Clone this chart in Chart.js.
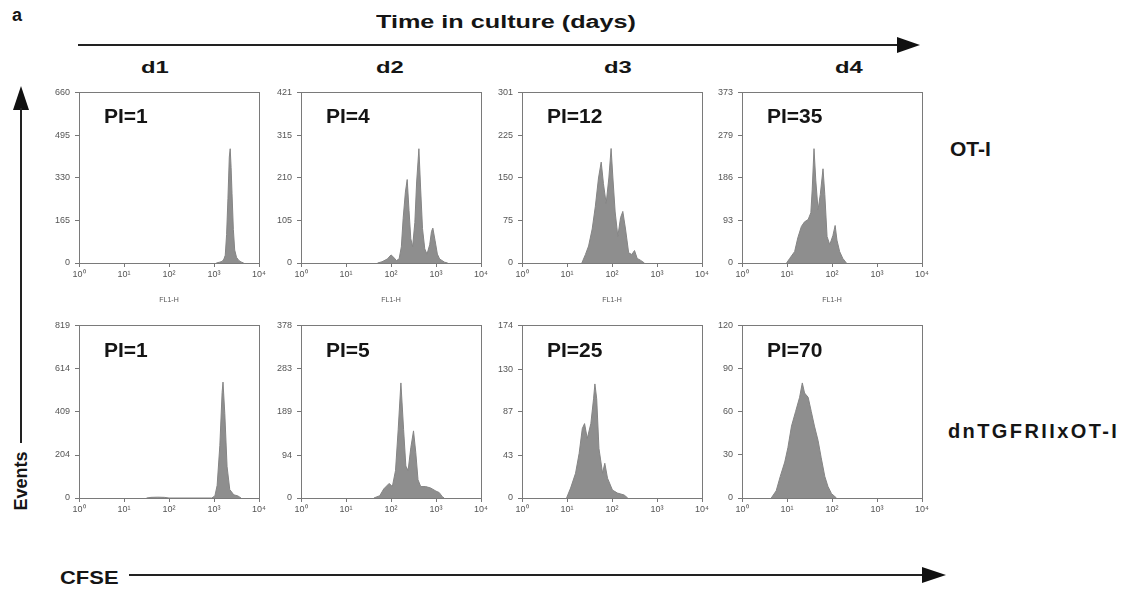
<!DOCTYPE html>
<html>
<head>
<meta charset="utf-8">
<script src="https://cdn.jsdelivr.net/npm/chart.js@4.4.1/dist/chart.umd.min.js"></script>
<style>
  body { margin: 0; background: #fff; font-family: "Liberation Sans", Arial, sans-serif; }
  #fig { position: relative; width: 1128px; height: 590px; overflow: hidden; background: #fff; }
  .lbl { position: absolute; font-weight: bold; color: #151515; white-space: nowrap; line-height: 1; }
  .wide { transform-origin: 0 0; }
  .line { position: absolute; background: #222; }
  .head { position: absolute; width: 0; height: 0; }
  canvas { position: absolute; }
</style>
</head>
<body>
<div id="fig">
  <div class="lbl" style="left:12px;top:6px;font-size:18px;">a</div>
  <div class="lbl wide" style="left:376px;top:13px;font-size:18px;transform:scaleX(1.4);">Time in culture (days)</div>
  <div class="line" style="left:78px;top:44px;width:820px;height:2px;"></div>
  <div class="head" style="left:897px;top:37px;border-top:8px solid transparent;border-bottom:8px solid transparent;border-left:23px solid #111;"></div>

  <div class="lbl wide" style="left:141px;top:59px;font-size:17px;transform:scaleX(1.4);">d1</div>
  <div class="lbl wide" style="left:376px;top:59px;font-size:17px;transform:scaleX(1.4);">d2</div>
  <div class="lbl wide" style="left:604px;top:59px;font-size:17px;transform:scaleX(1.4);">d3</div>
  <div class="lbl wide" style="left:835px;top:59px;font-size:17px;transform:scaleX(1.4);">d4</div>

  <div class="lbl" style="left:950px;top:138px;font-size:21px;">OT-I</div>
  <div class="lbl" style="left:948px;top:421px;font-size:20px;letter-spacing:2.4px;">dnTGFRIIxOT-I</div>

  <div class="head" style="left:13px;top:86px;border-left:8px solid transparent;border-right:8px solid transparent;border-bottom:24px solid #111;"></div>
  <div class="line" style="left:20px;top:108px;width:2px;height:335px;"></div>
  <div class="lbl" style="left:-10px;top:472px;font-size:18px;transform:rotate(-90deg);transform-origin:50% 50%;width:62px;text-align:center;">Events</div>

  <div class="lbl wide" style="left:60px;top:569px;font-size:18px;transform:scaleX(1.22);">CFSE</div>
  <div class="line" style="left:129px;top:574px;width:795px;height:2px;"></div>
  <div class="head" style="left:922px;top:567px;border-top:8px solid transparent;border-bottom:8px solid transparent;border-left:24px solid #111;"></div>
</div>
<script>
// CFSE position in decades (10^0 .. 10^4) and event counts
const ot1Pos = [3.05, 3.12, 3.18, 3.22, 3.25, 3.28, 3.31, 3.34, 3.36, 3.38, 3.40, 3.43, 3.46, 3.50, 3.55, 3.60, 3.66];
const ot1Cnt = [0, 3, 6, 15, 30, 110, 250, 410, 442, 370, 270, 130, 50, 22, 10, 4, 0];

const ot2Pos = [1.70, 1.80, 1.92, 2.00, 2.06, 2.12, 2.18, 2.23, 2.27, 2.32, 2.36, 2.40, 2.44, 2.48, 2.53, 2.57, 2.62, 2.66, 2.70, 2.75, 2.80, 2.86, 2.90, 2.93, 2.98, 3.03, 3.08, 3.19, 3.26];
const ot2Cnt = [0, 3, 10, 20, 14, 6, 10, 40, 110, 175, 206, 130, 60, 40, 100, 200, 282, 180, 85, 35, 22, 45, 78, 86, 55, 22, 10, 2, 0];

const ot3Pos = [1.33, 1.41, 1.48, 1.56, 1.63, 1.70, 1.76, 1.81, 1.87, 1.93, 1.98, 2.02, 2.07, 2.13, 2.19, 2.24, 2.30, 2.37, 2.44, 2.50, 2.56, 2.63, 2.72];
const ot3Cnt = [0, 15, 30, 60, 100, 150, 178, 140, 105, 150, 202, 150, 90, 47, 80, 91, 60, 18, 15, 22, 8, 5, 0];

const ot4Pos = [0.99, 1.06, 1.17, 1.24, 1.32, 1.39, 1.47, 1.53, 1.56, 1.60, 1.64, 1.69, 1.74, 1.80, 1.84, 1.89, 1.95, 2.02, 2.07, 2.11, 2.17, 2.24, 2.32];
const ot4Cnt = [0, 10, 25, 55, 80, 90, 95, 110, 160, 250, 180, 116, 150, 206, 150, 58, 40, 60, 82, 50, 25, 10, 0];

const dn1Pos = [1.50, 1.60, 1.75, 1.90, 2.00, 2.95, 3.02, 3.07, 3.13, 3.18, 3.20, 3.24, 3.29, 3.35, 3.44, 3.53, 3.60];
const dn1Cnt = [0, 3, 4, 3, 0, 0, 10, 60, 250, 500, 550, 400, 150, 40, 15, 10, 0];

const dn2Pos = [1.62, 1.75, 1.84, 1.96, 2.03, 2.10, 2.16, 2.22, 2.28, 2.33, 2.38, 2.44, 2.50, 2.55, 2.60, 2.66, 2.77, 2.88, 3.00, 3.07, 3.14, 3.18];
const dn2Cnt = [0, 5, 20, 32, 25, 60, 150, 252, 150, 70, 60, 110, 147, 100, 40, 25, 25, 22, 15, 12, 3, 0];

const dn3Pos = [0.99, 1.08, 1.19, 1.27, 1.34, 1.39, 1.45, 1.53, 1.59, 1.62, 1.66, 1.71, 1.79, 1.84, 1.90, 2.01, 2.12, 2.27, 2.35];
const dn3Cnt = [0, 10, 25, 45, 70, 75, 60, 75, 100, 115, 100, 50, 25, 35, 20, 8, 5, 3, 0];

const dn4Pos = [0.65, 0.76, 0.85, 0.95, 1.02, 1.10, 1.19, 1.28, 1.34, 1.39, 1.47, 1.54, 1.61, 1.69, 1.76, 1.84, 1.91, 1.99, 2.10];
const dn4Cnt = [0, 5, 15, 25, 35, 50, 60, 70, 80, 73, 70, 60, 50, 40, 28, 15, 8, 3, 0];

// y axis tick labels of each panel
const ot1Ticks = [0, 165, 330, 495, 660];
const ot2Ticks = [0, 105, 210, 315, 421];
const ot3Ticks = [0, 75, 150, 225, 301];
const ot4Ticks = [0, 93, 186, 279, 373];
const dn1Ticks = [0, 204, 409, 614, 819];
const dn2Ticks = [0, 94, 189, 283, 378];
const dn3Ticks = [0, 43, 87, 130, 174];
const dn4Ticks = [0, 30, 60, 90, 120];

const decades = [0, 1, 2, 3, 4];
const decadeLabels = ['10\u2070', '10\u00b9', '10\u00b2', '10\u00b3', '10\u2074'];
const piLabels = ['PI=1', 'PI=4', 'PI=12', 'PI=35', 'PI=1', 'PI=5', 'PI=25', 'PI=70'];

const panels = [
  { pos: ot1Pos, cnt: ot1Cnt, ticks: ot1Ticks },
  { pos: ot2Pos, cnt: ot2Cnt, ticks: ot2Ticks },
  { pos: ot3Pos, cnt: ot3Cnt, ticks: ot3Ticks },
  { pos: ot4Pos, cnt: ot4Cnt, ticks: ot4Ticks },
  { pos: dn1Pos, cnt: dn1Cnt, ticks: dn1Ticks },
  { pos: dn2Pos, cnt: dn2Cnt, ticks: dn2Ticks },
  { pos: dn3Pos, cnt: dn3Cnt, ticks: dn3Ticks },
  { pos: dn4Pos, cnt: dn4Cnt, ticks: dn4Ticks }
];

const colLeft = [79, 301, 522, 742];
const rowTop = [92, 325];
const rowHeight = [171, 173];
const plotW = 180, yAxisW = 30, padTop = 10, padRight = 12;

// box around the plot area
const frame = {
  id: 'frame',
  afterDatasetsDraw(chart) {
    const { ctx, chartArea: a } = chart;
    ctx.save();
    ctx.strokeStyle = '#7a7a7a';
    ctx.lineWidth = 1;
    ctx.strokeRect(Math.round(a.left) + 0.5, Math.round(a.top) + 0.5, Math.round(a.right - a.left), Math.round(a.bottom - a.top));
    ctx.restore();
  }
};

const fig = document.getElementById('fig');

panels.forEach((p, i) => {
  const row = Math.floor(i / 4), col = i % 4;
  const xAxisH = row === 0 ? 45 : 25;
  const canvas = document.createElement('canvas');
  canvas.width = yAxisW + plotW + padRight;
  canvas.height = padTop + rowHeight[row] + xAxisH;
  canvas.style.left = (colLeft[col] - yAxisW) + 'px';
  canvas.style.top = (rowTop[row] - padTop) + 'px';
  fig.appendChild(canvas);

  const pi = document.createElement('div');
  pi.className = 'lbl';
  pi.style.cssText = 'font-size:21px;left:' + (colLeft[col] + 25) + 'px;top:' + (rowTop[row] + 13 + row) + 'px;';
  pi.textContent = piLabels[i];
  fig.appendChild(pi);

  new Chart(canvas.getContext('2d'), {
    type: 'line',
    data: {
      datasets: [{
        data: p.pos.map((x, k) => ({ x: x, y: p.cnt[k] })),
        fill: 'origin',
        backgroundColor: '#8e8e8e',
        borderColor: '#858585',
        borderWidth: 1,
        pointRadius: 0,
        tension: 0
      }]
    },
    options: {
      responsive: false,
      animation: false,
      layout: { padding: { top: padTop, right: padRight, left: 0, bottom: 0 } },
      plugins: { legend: { display: false }, tooltip: { enabled: false } },
      scales: {
        x: {
          type: 'linear',
          min: 0,
          max: 4,
          afterBuildTicks: s => { s.ticks = decades.map(v => ({ value: v })); },
          afterFit: s => { s.height = xAxisH; },
          ticks: {
            callback: v => decadeLabels[v],
            font: { family: 'Liberation Sans', size: 9 },
            color: '#555',
            maxRotation: 0,
            padding: 2
          },
          grid: { drawOnChartArea: false, tickLength: 4, color: '#777' },
          border: { color: '#7a7a7a' },
          title: {
            display: row === 0,
            text: 'FL1-H',
            font: { family: 'Liberation Sans', size: 7 },
            color: '#555',
            padding: { top: 0, bottom: 4 }
          }
        },
        y: {
          min: 0,
          max: p.ticks[p.ticks.length - 1],
          afterBuildTicks: s => { s.ticks = p.ticks.map(v => ({ value: v })); },
          afterFit: s => { s.width = yAxisW; },
          ticks: {
            font: { family: 'Liberation Sans', size: 9 },
            color: '#555',
            padding: 5
          },
          grid: { drawOnChartArea: false, tickLength: 4, color: '#777' },
          border: { color: '#7a7a7a' }
        }
      }
    },
    plugins: [frame]
  });
});
</script>
</body>
</html>
